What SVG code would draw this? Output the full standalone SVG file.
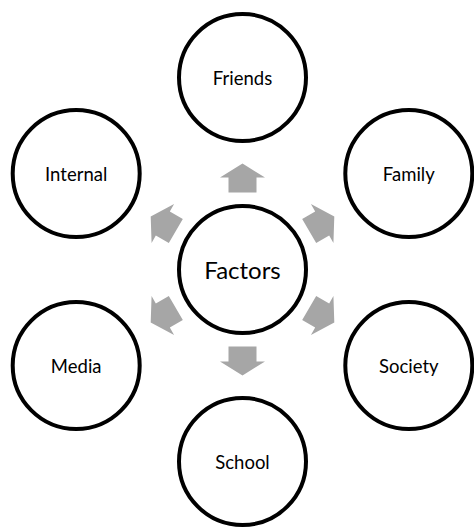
<svg xmlns="http://www.w3.org/2000/svg" width="474" height="529" viewBox="0 0 474 529">
<style>
.node{fill:#fff;stroke:#000;stroke-width:4}
.lbl{font-family:Lato,"Open Sans",sans-serif;font-size:18.5px;fill:#000;text-anchor:middle;dominant-baseline:central}
.big{font-size:24px}
.arr{fill:#A6A6A6;stroke:none}
</style>
<defs>
<path id="arrow" class="arr" d="M-14,-77 L-14,-92 L-22.5,-92 L0,-106 L22.5,-92 L14,-92 L14,-77 Z"/>
</defs>
<rect width="474" height="529" fill="#fff"/>
<g id="connectors" transform="translate(242.5,269.5)">
<use href="#arrow" transform="rotate(0)"/>
<use href="#arrow" transform="rotate(60)"/>
<use href="#arrow" transform="rotate(120)"/>
<use href="#arrow" transform="rotate(180)"/>
<use href="#arrow" transform="rotate(240)"/>
<use href="#arrow" transform="rotate(300)"/>
</g>
<g id="factors"><circle class="node" cx="242.5" cy="269.5" r="63.5"/><text class="lbl big" x="242.5" y="269.5">Factors</text></g>
<g id="friends"><circle class="node" cx="242.5" cy="77.5" r="63.5"/><text class="lbl" x="242.5" y="77.5">Friends</text></g>
<g id="family"><circle class="node" cx="408.8" cy="173.5" r="63.5"/><text class="lbl" x="408.8" y="173.5">Family</text></g>
<g id="society"><circle class="node" cx="408.8" cy="365.5" r="63.5"/><text class="lbl" x="408.8" y="365.5">Society</text></g>
<g id="school"><circle class="node" cx="242.5" cy="461.5" r="63.5"/><text class="lbl" x="242.5" y="461.5">School</text></g>
<g id="media"><circle class="node" cx="76.2" cy="365.5" r="63.5"/><text class="lbl" x="76.2" y="365.5">Media</text></g>
<g id="internal"><circle class="node" cx="76.2" cy="173.5" r="63.5"/><text class="lbl" x="76.2" y="173.5">Internal</text></g>
</svg>
